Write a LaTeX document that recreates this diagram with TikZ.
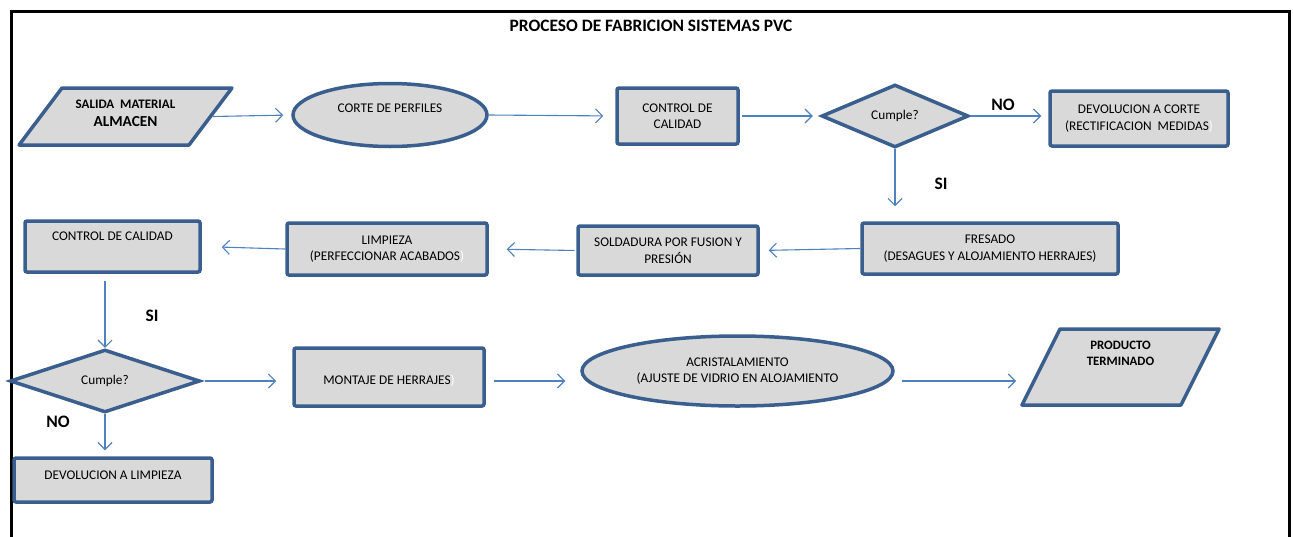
\documentclass[tikz,border=0pt]{standalone}
\usepackage{fontspec}
\setmainfont{Carlito}
\usetikzlibrary{arrows.meta, positioning, shapes.geometric}
\definecolor{edgeblue}{HTML}{3A5F8F}
\definecolor{linkblue}{HTML}{4F81BD}
\definecolor{fillgrey}{HTML}{D9D9D9}
\newcommand{\txtsize}{\fontsize{13.3}{16.5}\selectfont}
\newcommand{\fadedpar}{\textcolor{white}{)}}
\tikzset{
  shp/.style={draw=edgeblue, fill=fillgrey, line width=3.5pt, align=center, font=\txtsize, inner sep=1pt},
  proc/.style={shp, rectangle, rounded corners=2pt},
  term/.style={shp, ellipse},
  decide/.style={shp, diamond},
  io/.style={shp, trapezium, line join=round, inner sep=0pt, text depth=0pt},
  link/.style={draw=linkblue, line width=1.1pt, -{Straight Barb[length=7pt,width=14pt]}},
  tag/.style={font=\fontsize{17.5}{20}\selectfont\bfseries}
}

\begin{document}
\begin{tikzpicture}[x=1pt, y=-1pt]
\useasboundingbox (0,0) rectangle (1293,536);

% frame and title
\draw[line width=3pt] (11,540) -- (11,11) -- (1289,11) -- (1289,540);
\node[font=\fontsize{17.4}{20}\selectfont\bfseries] (title) at (651,26) {PROCESO DE FABRICION SISTEMAS PVC};

% first row
\node[io, trapezium left angle=53, trapezium right angle=127, text height=57pt] (salida) at (125.5,116.5) {\hspace*{127pt}};
\node[align=center] (salidatext) at ([yshift=3pt]salida.center)
  {{\fontsize{13}{14}\selectfont\bfseries SALIDA\ \ MATERIAL}\\[6pt]{\fontsize{15.3}{17}\selectfont\bfseries ALMACEN}};
\node[term, minimum width=194pt, minimum height=63pt, text depth=14pt] (corte) at (390,115) {CORTE DE PERFILES};
\node[proc, minimum width=121pt, minimum height=56pt] (ctrl) at (677.5,116) {CONTROL DE\\CALIDAD};
\node[decide, minimum width=147pt, minimum height=53pt] (cumple) at (895,116) {Cumple?};
\node[proc, minimum width=178pt, minimum height=55pt] (devcorte) at (1139,118.5) {DEVOLUCION A CORTE\\(RECTIFICACION\ \ MEDIDAS\fadedpar};

% second row
\node[proc, minimum width=256pt, minimum height=51pt] (fresado) at (990,248.5) {FRESADO\\(DESAGUES Y ALOJAMIENTO HERRAJES)};
\node[proc, minimum width=180pt, minimum height=49pt] (sold) at (668,250.5) {SOLDADURA POR FUSION Y\\PRESIÓN};
\node[proc, minimum width=200pt, minimum height=52pt] (limp) at (387,249) {LIMPIEZA\\(PERFECCIONAR ACABADOS\fadedpar};
\node[proc, minimum width=175pt, minimum height=51pt, text depth=21pt] (cc2) at (112.5,246.5) {CONTROL DE CALIDAD};

% third row
\node[decide, minimum width=190pt, minimum height=51pt] (cumple2) at (105,381) {Cumple?};
\node[proc, minimum width=198pt, minimum height=44pt, text depth=10pt] (devlimp) at (113,480) {DEVOLUCION A LIMPIEZA};
\node[proc, minimum width=190pt, minimum height=58pt, text height=17.5pt] (montaje) at (389,377) {MONTAJE DE HERRAJES\fadedpar};
\node[term, minimum width=311pt, minimum height=70pt] (acris) at (737.5,371) {ACRISTALAMIENTO\\(AJUSTE DE VIDRIO EN ALOJAMIENTO};
\node[io, trapezium left angle=63.4, trapezium right angle=116.6, text height=76pt] (prod) at (1120.5,367) {\hspace*{121pt}};
\node[font=\fontsize{12.8}{16}\selectfont\bfseries, align=center] (prodtext) at ([yshift=14pt]prod.center) {PRODUCTO\\TERMINADO};

% labels
\node[tag] (no1) at (1003,105) {NO};
\node[tag] (si1) at (941,184) {SI};
\node[tag] (si2) at (152,316) {SI};
\node[tag] (no2) at (58,422) {NO};

% connectors
\draw[link, shorten >=8pt] (salida.east) -- (corte.west);
\draw[link, shorten >=12pt] (corte.east) -- (ctrl.west);
\draw[link, shorten <=2pt, shorten >=7pt] (ctrl.east) -- (cumple.west);
\draw[link, shorten >=7pt] (cumple.east) -- (cumple.east -| devcorte.west);
\draw[link, shorten >=15pt] (cumple.south) -- (cumple.south |- fresado.north);
\draw[link, shorten >=9pt] (fresado.west) -- (sold.east);
\draw[link, shorten <=2pt, shorten >=18pt] (sold.west) -- (limp.east);
\draw[link, shorten >=20pt] (limp.west) -- (cc2.east);
\draw[link, shorten <=7pt] (cc2.south -| cumple2.north) -- (cumple2.north);
\draw[link, shorten >=6pt] (cumple2.south) -- (cumple2.south |- devlimp.north);
\draw[link, shorten <=3pt, shorten >=16pt] (cumple2.east) -- (cumple2.east -| montaje.west);
\draw[link, shorten <=8pt, shorten >=15pt] (cumple2.east -| montaje.east) -- (cumple2.east -| acris.west);
\draw[link, shorten <=7pt, shorten >=23pt] (cumple2.east -| acris.east) -- (cumple2.east -| prod.west);
\end{tikzpicture}
\end{document}
